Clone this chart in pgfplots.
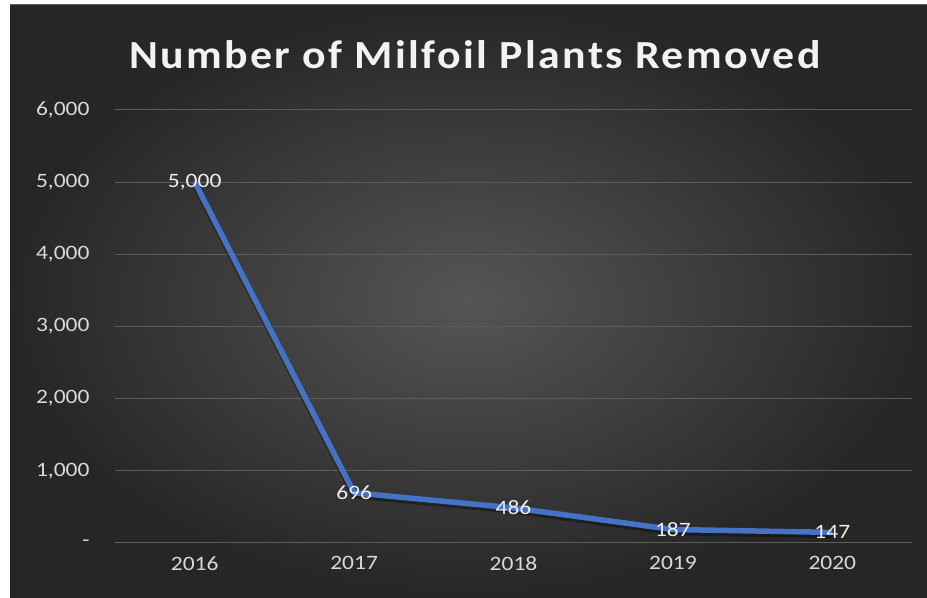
\documentclass[border=0pt]{standalone}
\usepackage{pgfplots}
\pgfplotsset{compat=1.18}
\usepackage{fontspec}
\setmainfont{Carlito}[FakeStretch=1.15]
\newfontfamily\titlefont{Carlito}[FakeStretch=1.1, LetterSpace=6]
\definecolor{linec}{HTML}{4472C4}
\definecolor{tickc}{HTML}{D9D9D9}
\definecolor{gridc}{HTML}{5C5C5C}
\definecolor{bgin}{HTML}{555555}
\definecolor{bgout}{HTML}{262626}
\begin{document}
\begin{tikzpicture}[x=1bp,y=1bp]
\path[use as bounding box] (0,0) rectangle (927,598);
\fill[white] (0,0) rectangle (927,598);
\shade[inner color=bgin, outer color=bgout] (10,0) rectangle (927,593);
\draw[gridc, line width=1bp] (10,593) -- (927,593);
\node[text=white!95!black, font=\titlefont\bfseries\fontsize{40}{44}\selectfont] at (475,543) {Number of Milfoil Plants Removed};
\begin{axis}[
  at={(115bp,55bp)}, anchor=south west,
  scale only axis, width=797bp, height=433bp,
  xmin=-0.5, xmax=4.5, ymin=0, ymax=6000,
  axis line style={draw=none},
  xtick={0,1,2,3,4},
  xticklabels={2016,2017,2018,2019,2020},
  ytick={0,1000,2000,3000,4000,5000,6000},
  yticklabels={{-\hspace{16bp}},{1,000},{2,000},{3,000},{4,000},{5,000},{6,000}},
  major tick length=0pt,
  ymajorgrids, grid style={gridc, line width=1bp},
  tick label style={text=tickc, font=\fontsize{20.5}{24}\selectfont},
  xticklabel style={yshift=-10bp},
  yticklabel style={xshift=-22bp},
  /pgf/number format/assume math mode=true,
  clip=false,
]
\addplot[black, opacity=0.35, line width=5.5bp, line join=round, yshift=-3bp, forget plot] coordinates {(0,5000) (1,696) (2,486) (3,187) (4,147)};
\addplot[linec, line width=5.5bp, line join=round,
  nodes near coords,
  nodes near coords style={anchor=center, text=white!93!black, font=\fontsize{20.5}{24}\selectfont, /pgf/number format/1000 sep={,}, /pgf/number format/assume math mode=true},
] coordinates {(0,5000) (1,696) (2,486) (3,187) (4,147)};
\end{axis}
\end{tikzpicture}
\end{document}
